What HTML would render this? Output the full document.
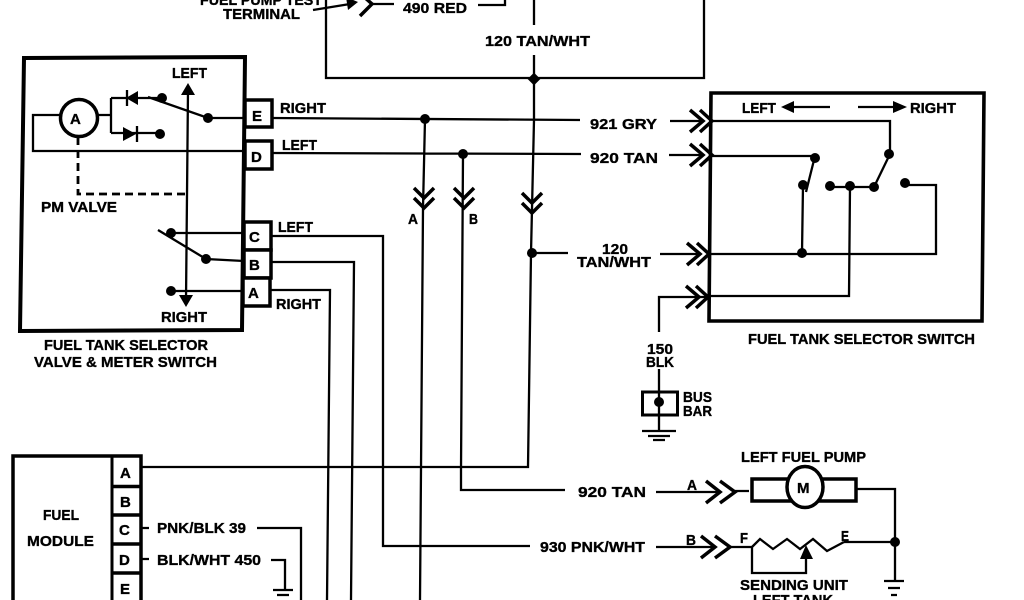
<!DOCTYPE html>
<html><head><meta charset="utf-8"><style>
html,body{margin:0;padding:0;background:#fff;width:1024px;height:600px;overflow:hidden}
svg{display:block}
text{font-family:"Liberation Sans",sans-serif;font-weight:bold;font-size:15px;fill:#000;stroke:#000;stroke-width:.35}
.w{fill:none;stroke:#000;stroke-width:2.300}
.c{fill:none;stroke:#000;stroke-width:3.500}
</style></head><body>
<svg width="1024" height="600" viewBox="0 0 1024 600" xmlns="http://www.w3.org/2000/svg">
<defs>
<g id="chr"><path class="c" d="M-22,-11 L-9,0 L-22,11 M-12,-11 L0,0 L-12,11"/></g>
<g id="chp"><path class="c" d="M-29,-11 L-15,0 L-29,11 M-15,-11 L0,0 L-15,11"/></g>
<g id="chd"><path class="c" d="M-10,-20 L0,-10 L10,-20 M-10,-10 L0,0 L10,-10"/></g>
</defs>
<!-- top -->
<path class="w" d="M326,0 V78 H704 V0"/>
<path class="w" d="M534,0 V25 M534,55 V120 L531,253 L528,467 H141"/>
<path class="w" d="M478,5 H505 V0 M372,4 H394 M313,10 L350,4"/>
<path class="c" d="M362,-5 L372,4 L360,16"/>
<path d="M346,-3 L358,2 L348,10Z"/>
<rect x="529.500" y="74.500" width="9" height="9" transform="rotate(45 534 79)"/>
<text x="200" y="5" textLength="122" lengthAdjust="spacingAndGlyphs">FUEL PUMP TEST</text>
<text x="223" y="19" textLength="77" lengthAdjust="spacingAndGlyphs">TERMINAL</text>
<text x="403" y="13" textLength="64" lengthAdjust="spacingAndGlyphs">490 RED</text>
<text x="485" y="46" textLength="105" lengthAdjust="spacingAndGlyphs">120 TAN/WHT</text>

<!-- left box -->
<path d="M24,58 L245,57 L242,330 L20,331Z" fill="none" stroke="#000" stroke-width="4"/>
<rect x="245" y="100" width="27" height="27" fill="#fff" stroke="#000" stroke-width="3.500"/>
<rect x="245" y="141" width="27" height="28" fill="#fff" stroke="#000" stroke-width="3.500"/>
<rect x="244" y="222" width="27" height="28" fill="#fff" stroke="#000" stroke-width="3.500"/>
<rect x="244" y="250" width="27" height="28" fill="#fff" stroke="#000" stroke-width="3.500"/>
<rect x="243" y="278" width="27" height="28" fill="#fff" stroke="#000" stroke-width="3.500"/>
<text x="252" y="121">E</text><text x="251" y="162">D</text><text x="249" y="242">C</text><text x="249" y="270">B</text><text x="248" y="298">A</text>
<circle cx="79" cy="118" r="18.500" fill="#fff" stroke="#000" stroke-width="3.500"/>
<text x="70" y="124" font-size="15">A</text>
<path class="w" d="M61,115 H33 V151 H245 M98,115 H111 M111,98 V133 M111,98 H162 M111,133 H160 M148,97 L208,118 H245 M171,233 H244 M158,230 L206,259 L244,261 M171,291 H243 M188,90 L186,300"/>
<path d="M126,98 L138,91 V105Z M136,134 L123,127 V141Z"/>
<path class="w" d="M127,90 V106 M137,126 V142"/>
<circle cx="162" cy="98" r="5"/><circle cx="160" cy="134" r="5"/><circle cx="208" cy="118" r="5"/>
<circle cx="171" cy="233" r="5"/><circle cx="206" cy="259" r="5"/><circle cx="171" cy="291" r="5"/>
<path d="M188,83 L195,95 H181Z M186,307 L179,295 H193Z"/>
<path d="M78,137 V194 H186" fill="none" stroke="#000" stroke-width="2.800" stroke-dasharray="8 5"/>
<text x="172" y="78" textLength="35" lengthAdjust="spacingAndGlyphs">LEFT</text>
<text x="161" y="322" textLength="46" lengthAdjust="spacingAndGlyphs">RIGHT</text>
<text x="41" y="212" textLength="76" lengthAdjust="spacingAndGlyphs">PM VALVE</text>
<text x="44" y="350" textLength="164" lengthAdjust="spacingAndGlyphs">FUEL TANK SELECTOR</text>
<text x="34" y="367" textLength="183" lengthAdjust="spacingAndGlyphs">VALVE &amp; METER SWITCH</text>
<text x="280" y="113" textLength="46" lengthAdjust="spacingAndGlyphs">RIGHT</text>
<text x="282" y="150" textLength="35" lengthAdjust="spacingAndGlyphs">LEFT</text>
<text x="278" y="232" textLength="35" lengthAdjust="spacingAndGlyphs">LEFT</text>
<text x="276" y="309" textLength="45" lengthAdjust="spacingAndGlyphs">RIGHT</text>

<!-- wires from left box -->
<path class="w" d="M272,118 L580,120 M272,153 L581,154 M425,119 L423,208 L420,600 M463,154 L461,470 V490 H565 M271,236 H383 V546 H530 M271,262 H354 L351,600 M270,290 H330 L327,600 M532,253 H568"/>
<circle cx="425" cy="119" r="5"/><circle cx="463" cy="154" r="5"/><circle cx="532" cy="253" r="5"/>
<use href="#chd" x="424" y="208"/><use href="#chd" x="464" y="208"/><use href="#chd" x="532" y="213"/>
<text x="408" y="224" textLength="10" lengthAdjust="spacingAndGlyphs">A</text>
<text x="469" y="224" textLength="9" lengthAdjust="spacingAndGlyphs">B</text>
<text x="590" y="129" textLength="67" lengthAdjust="spacingAndGlyphs">921 GRY</text>
<text x="590" y="163" textLength="68" lengthAdjust="spacingAndGlyphs">920 TAN</text>
<text x="602" y="254" textLength="26" lengthAdjust="spacingAndGlyphs">120</text>
<text x="577" y="267" textLength="74" lengthAdjust="spacingAndGlyphs">TAN/WHT</text>

<!-- right box -->
<path d="M711,93 H984 L982,321 H709Z" fill="none" stroke="#000" stroke-width="3.600"/>
<path class="w" d="M670,121 H703 M669,155 H703 M660,254 H700 M707,297 H659 V332"/>
<use href="#chr" x="712" y="121"/><use href="#chr" x="712" y="155"/><use href="#chr" x="709" y="254"/><use href="#chr" x="708" y="297"/>
<path class="w" d="M712,121 H890 V154 L874,187 H830 M712,156 H815 L806,192 M803,185 L802,253 M709,254 H936 V185 H905 M850,187 L849,296 H709 M794,107 H830 M858,107 H893"/>
<circle cx="889" cy="154" r="5"/><circle cx="815" cy="158" r="5"/><circle cx="803" cy="185" r="5"/><circle cx="830" cy="186" r="5"/><circle cx="850" cy="186" r="5"/><circle cx="874" cy="187" r="5"/><circle cx="905" cy="183" r="5"/><circle cx="802" cy="253" r="5"/>
<path d="M781,107 L794,101 V113Z M907,107 L893,101 V113Z"/>
<text x="742" y="113" textLength="34" lengthAdjust="spacingAndGlyphs">LEFT</text>
<text x="910" y="113" textLength="46" lengthAdjust="spacingAndGlyphs">RIGHT</text>
<text x="748" y="344" textLength="227" lengthAdjust="spacingAndGlyphs">FUEL TANK SELECTOR SWITCH</text>
<text x="647" y="354" textLength="26" lengthAdjust="spacingAndGlyphs">150</text>
<text x="646" y="367" textLength="28" lengthAdjust="spacingAndGlyphs">BLK</text>

<!-- bus bar -->
<rect x="642.500" y="392" width="35" height="23" fill="none" stroke="#000" stroke-width="3"/>
<path class="w" d="M659,369 V431 M642,431 H676 M648,436 H670 M653,440 H665"/>
<circle cx="659" cy="402" r="5"/>
<text x="683" y="402" textLength="29" lengthAdjust="spacingAndGlyphs">BUS</text>
<text x="683" y="416" textLength="29" lengthAdjust="spacingAndGlyphs">BAR</text>

<!-- pump -->
<text x="741" y="462" textLength="125" lengthAdjust="spacingAndGlyphs">LEFT FUEL PUMP</text>
<rect x="752" y="479" width="104" height="22" fill="none" stroke="#000" stroke-width="3.500"/>
<ellipse cx="805" cy="487" rx="18" ry="20.500" fill="#fff" stroke="#000" stroke-width="3.500"/>
<text x="797" y="493" font-size="15">M</text>
<path class="w" d="M656,492 H718 M735,491 H749 M856,489 H895 V580 M656,547 H714 M730,547 H752 M844,542 H895 M884,581 H904 M888,588 H900 M891,595 H897"/>
<use href="#chp" x="735" y="492"/><use href="#chp" x="730" y="547"/>
<circle cx="895" cy="542" r="5"/>
<path class="w" d="M752,547 L760,539 L773,549 L787,539 L800,549 L813,539 L827,551 L844,542 M752,547 V573 H806 V552"/>
<path d="M806,545 L813,559 H800Z"/>
<text x="578" y="497" textLength="68" lengthAdjust="spacingAndGlyphs">920 TAN</text>
<text x="540" y="552" textLength="105" lengthAdjust="spacingAndGlyphs">930 PNK/WHT</text>
<text x="687" y="490" textLength="10" lengthAdjust="spacingAndGlyphs">A</text>
<text x="686" y="545" textLength="10" lengthAdjust="spacingAndGlyphs">B</text>
<text x="740" y="543" textLength="8" lengthAdjust="spacingAndGlyphs">F</text>
<text x="841" y="541" textLength="8" lengthAdjust="spacingAndGlyphs">E</text>
<text x="740" y="590" textLength="108" lengthAdjust="spacingAndGlyphs">SENDING UNIT</text>
<text x="753" y="605" textLength="80" lengthAdjust="spacingAndGlyphs">LEFT TANK</text>

<!-- fuel module -->
<path d="M13,602 V456 H141 V602" fill="none" stroke="#000" stroke-width="3.500"/>
<path d="M112,456 V602" fill="none" stroke="#000" stroke-width="3"/>
<path d="M112,486.500 H140 M112,515 H140 M112,544 H140 M112,573 H140" fill="none" stroke="#000" stroke-width="3.500"/>
<text x="120" y="478">A</text><text x="120" y="507">B</text><text x="119" y="535">C</text><text x="119" y="565">D</text><text x="120" y="594">E</text>
<text x="43" y="520" textLength="36" lengthAdjust="spacingAndGlyphs">FUEL</text>
<text x="27" y="546" textLength="67" lengthAdjust="spacingAndGlyphs">MODULE</text>
<text x="157" y="533" textLength="89" lengthAdjust="spacingAndGlyphs">PNK/BLK 39</text>
<text x="157" y="565" textLength="104" lengthAdjust="spacingAndGlyphs">BLK/WHT 450</text>
<path class="w" d="M141,528 H149 M141,559 H149 M257,528 H301 V600 M271,560 H285 V589 M273,590 H293 M277,595 H289"/>
</svg>
</body></html>
